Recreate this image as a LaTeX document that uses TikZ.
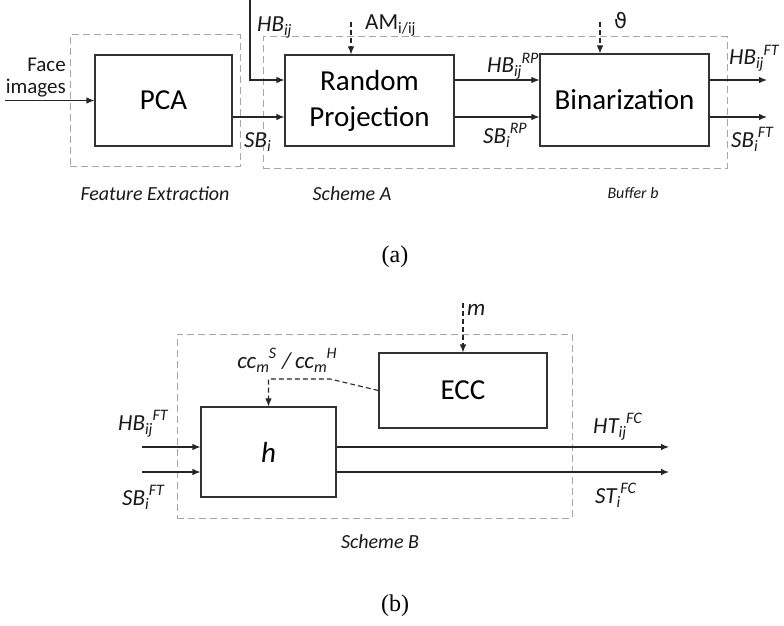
\documentclass[tikz,border=0pt]{standalone}
\usepackage{fontspec}
\setmainfont{Carlito}
\newfontfamily\capfont{Liberation Serif}
\newfontfamily\symfont{DejaVu Sans}
\usetikzlibrary{arrows.meta}
\newcommand\subfnt{\fontsize{16}{17}\selectfont}
\newcommand\sbonly[2]{#1\raisebox{-4pt}{\subfnt #2}}
\newcommand\sbsp[3]{#1\raisebox{-4pt}{\subfnt #2}\raisebox{9.5pt}{\subfnt #3}}
\tikzstyle{block} = [draw=black!80, line width=1.1pt, inner sep=0pt, align=center, font=\fontsize{29}{36}\selectfont]
\tikzstyle{frame} = [draw=black!35, line width=1pt, dash pattern=on 7pt off 4pt, inner sep=0pt]
\tikzstyle{arrow} = [line width=1.1pt, draw=black!85, -{Latex[length=8pt,width=6.5pt]}]
\tikzstyle{darrow} = [arrow, dash pattern=on 5pt off 3pt]
\tikzstyle{lbl} = [inner sep=0pt, anchor=base west, text=black!90, font=\fontsize{23}{25}\selectfont\itshape]
\tikzstyle{caption} = [inner sep=0pt, anchor=base, text=black!90, font=\fontsize{20}{22}\selectfont\itshape]

\begin{document}
\begin{tikzpicture}[x=1pt, y=-1pt]
	\useasboundingbox (0,0) rectangle (784,626);

	% (a) feature extraction and scheme A
	\node[frame, minimum width=170pt, minimum height=131pt] (fe) at (155,100.5) {};
	\node[frame, minimum width=464pt, minimum height=131pt] (schA) at (495,102.5) {};

	\node[block, minimum width=137pt, minimum height=91pt] (pca) at (163.5,100.5) {PCA};
	\node[block, minimum width=169pt, minimum height=91pt] (rp) at (369.5,100.5) {Random\\Projection};
	\node[block, minimum width=169pt, minimum height=92pt] (bin) at (624.5,100) {Binarization};

	\coordinate (yhi) at (0,80);
	\coordinate (ylo) at (0,117);
	\coordinate (facein) at (5,100.5);
	\coordinate (hbtop) at (250,0);
	\coordinate (amtop) at (351,22);
	\coordinate (thtop) at (600,22);
	\coordinate (outhi) at (767,80);
	\coordinate (outlo) at (767,117);

	\draw[arrow] (facein) -- (pca.west);
	\draw[arrow] (hbtop) |- (rp.west |- yhi);
	\draw[arrow] (pca.east |- ylo) -- (rp.west |- ylo);
	\draw[darrow] (amtop) -- (rp.north -| amtop);
	\draw[arrow] (rp.east |- yhi) -- (bin.west |- yhi);
	\draw[arrow] (rp.east |- ylo) -- (bin.west |- ylo);
	\draw[darrow] (thtop) -- (bin.north -| thtop);
	\draw[arrow] (bin.east |- yhi) -- (outhi);
	\draw[arrow] (bin.east |- ylo) -- (outlo);

	\node[lbl, anchor=east, align=right, font=\fontsize{21}{22}\selectfont] (face) at (66,78) {Face\\images};
	\node[lbl] (hbij) at (257,32) {\sbonly{HB}{ij}};
	\node[lbl, font=\fontsize{23}{25}\selectfont] (am) at (365,30) {\sbonly{AM}{i/ij}};
	\node[lbl, font=\symfont\fontsize{21}{24}\selectfont] (theta) at (614,29) {ϑ};
	\node[lbl] (sbi) at (244,147) {\sbonly{SB}{i}};
	\node[lbl] (hbrp) at (487,73) {\sbsp{HB}{ij}{RP}};
	\node[lbl] (sbrp) at (483,143) {\sbsp{SB}{i}{RP}};
	\node[lbl] (hbft) at (729,65) {\sbsp{HB}{ij}{FT}};
	\node[lbl] (sbft) at (731,147) {\sbsp{SB}{i}{FT}};

	\node[caption] (capfe) at (155,200) {Feature Extraction};
	\node[caption] (capa) at (352,200) {Scheme A};
	\node[caption, font=\fontsize{16}{18}\selectfont\itshape] (capbuf) at (633,198) {Buffer b};
	\node[font=\capfont\fontsize{24}{26}\selectfont] (suba) at (395,257) {(a)};

	% (b) scheme B
	\node[frame, minimum width=395pt, minimum height=184pt] (schB) at (374.5,426) {};

	\node[block, minimum width=135pt, minimum height=90pt, font=\fontsize{29}{36}\selectfont\itshape] (h) at (268.5,452) {h};
	\node[block, minimum width=168pt, minimum height=75pt] (ecc) at (463,390.5) {ECC};

	\coordinate (yin) at (0,447);
	\coordinate (yis) at (0,472);
	\coordinate (inhi) at (142,447);
	\coordinate (inlo) at (142,472);
	\coordinate (fchi) at (669,447);
	\coordinate (fclo) at (669,472);
	\coordinate (mtop) at (463,303);
	\coordinate (bend) at (330,379);
	\coordinate (ccdrop) at (268.5,379);

	\draw[arrow] (inhi) -- (h.west |- yin);
	\draw[arrow] (inlo) -- (h.west |- yis);
	\draw[arrow] (h.east |- yin) -- (fchi);
	\draw[arrow] (h.east |- yis) -- (fclo);
	\draw[darrow] (mtop) -- (ecc.north);
	\draw[darrow] (ecc.west) -- (bend) -- (ccdrop) -- (h.north);

	\node[lbl] (mlbl) at (467,315) {m};
	\node[lbl, anchor=base] (cclbl) at (287,368) {\sbsp{cc}{m}{S}\hspace{6pt}/\hspace{4pt}\sbsp{cc}{m}{H}};
	\node[lbl] (hbin) at (118,430) {\sbsp{HB}{ij}{FT}};
	\node[lbl] (sbin) at (122,505) {\sbsp{SB}{i}{FT}};
	\node[lbl] (htfc) at (593,433) {\sbsp{HT}{ij}{FC}};
	\node[lbl] (stfc) at (595,503) {\sbsp{ST}{i}{FC}};

	\node[caption] (capb) at (380,548) {Scheme B};
	\node[font=\capfont\fontsize{24}{26}\selectfont] (subb) at (395,606) {(b)};
\end{tikzpicture}
\end{document}
